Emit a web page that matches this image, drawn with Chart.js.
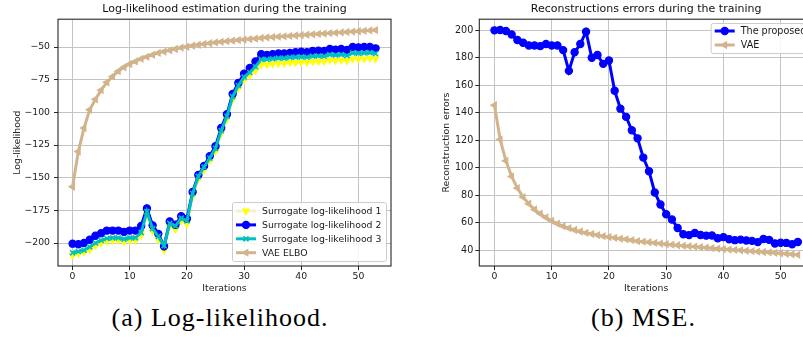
<!DOCTYPE html>
<html>
<head>
<meta charset="utf-8">
<script src="https://cdn.jsdelivr.net/npm/chart.js@4.4.0/dist/chart.umd.min.js"></script>
<style>
  html, body { margin: 0; padding: 0; background: #fff; overflow: hidden; }
  #wrap { position: relative; width: 803px; height: 348px; overflow: hidden; }
  .plot { position: absolute; top: 0; }
  .cap { position: absolute; top: 304px; font-family: "Liberation Serif", serif; font-size: 26px;
         line-height: 28px; letter-spacing: 1px; color: #000; text-align: center; white-space: nowrap; }
</style>
</head>
<body>
<div id="wrap">
  <canvas id="llChart" class="plot" width="400" height="300" style="left:0px"></canvas>
  <canvas id="mseChart" class="plot" width="430" height="300" style="left:400px"></canvas>
  <div class="cap" style="left:0px;width:440px">(a) Log-likelihood.</div>
  <div class="cap" style="left:543px;width:201px">(b) MSE.</div>
</div>
<script>
// iterations 0..53
var iterations = [0,1,2,3,4,5,6,7,8,9,10,11,12,13,14,15,16,17,18,19,20,21,22,23,24,25,26,
  27,28,29,30,31,32,33,34,35,36,37,38,39,40,41,42,43,44,45,46,47,48,49,50,51,52,53];

// tick labels
var iterTicks = [0, 10, 20, 30, 40, 50];
var llTicks = [-200, -175, -150, -125, -100, -75, -50];
var mseTicks = [40, 60, 80, 100, 120, 140, 160, 180, 200];

// left panel: log-likelihood
var surrogate1 = [-209.5,-208,-207,-205,-202,-200,-198.5,-198,-198,-199,-198,-198,-194,-178,-191,-197.5,
  -205.5,-187,-189.5,-183,-185.5,-164,-151,-144,-137,-129.5,-116,-105,-90,-81.5,-75,-71.5,-68,-63.5,
  -63.5,-63,-62.5,-62.5,-62,-62,-61.5,-61.8,-61,-61,-61,-60,-60.3,-60,-60.5,-59,-59.2,-59,-58.5,-59];
var surrogate2 = [-200.5,-201,-200,-197.5,-194.5,-192.5,-190.5,-190.5,-190.5,-191.5,-190.5,-190.5,-187,
  -173.5,-186.5,-193,-202.5,-183.5,-186,-179.5,-181.5,-161,-148,-141,-133.5,-126,-112,-101.5,-86,-77.5,
  -70.5,-66,-61,-55.5,-56,-55.5,-55,-55,-54.5,-54,-53.5,-54,-53,-52.8,-53,-51.5,-52,-51.5,-52.3,-50,
  -50.3,-50,-50,-51];
var surrogate3 = [-207.5,-206.5,-205.5,-203,-200,-198,-196.5,-196,-196,-197,-196,-196,-192,-176,-189,
  -195,-202,-185,-187,-181,-183,-162,-149,-142,-135,-127.5,-114,-103,-88,-79.5,-73,-69.5,-65,-59.5,
  -59.5,-59,-58.5,-58.5,-58,-57.8,-57.5,-57.8,-57,-56.8,-57,-55.8,-56.2,-55.8,-56.5,-54.5,-54.8,-54.5,
  -54.3,-55];
var vaeElbo = [-157,-130,-112,-98,-90,-83,-77,-72.5,-68.5,-65.5,-63,-61,-59,-57.5,-56,-54.5,-53.5,-52.5,
  -51.5,-50.5,-49.8,-49,-48.3,-47.7,-47.1,-46.5,-46,-45.5,-45.1,-44.7,-44.3,-43.9,-43.5,-43.1,-42.7,
  -42.4,-42.1,-41.8,-41.5,-41.2,-40.9,-40.6,-40.3,-40,-39.7,-39.4,-39.1,-38.8,-38.5,-38.2,-37.9,-37.6,
  -37.3,-37];

// right panel: reconstruction errors
var proposedErr = [200,200.2,199.5,197,193,191,189,189,188.5,190,189,189,185.6,170.5,184,190,199,180,182,
  175.6,178,156,143,137,127.3,121.4,107.4,97.5,82,73.2,66.2,62.3,56.2,51.6,51,52.5,51.1,50.6,50.7,48.7,
  49.5,48,47.3,47.7,47.1,46.8,45.9,48.2,47.5,44.9,45.4,45.3,44.3,46];
var vaeErr = [145.5,120.5,105,93.7,85.2,78.6,73.8,69.6,66.6,63.8,61.4,59.3,57.5,56,54.7,53.6,52.6,51.8,
  51,50.2,49.6,49,48.4,47.9,47.3,46.6,46.2,45.8,45.3,44.8,44.4,44,43.6,43.2,42.9,42.6,42.2,41.9,41.5,
  41.1,40.8,40.5,40.2,39.9,39.6,39.3,39,38.7,38.4,38.1,37.8,37.4,37,36.6];

var FONT = '"DejaVu Sans", sans-serif';

function pts(values) {
  return iterations.map(function (x, i) { return { x: x, y: values[i] }; });
}

function fixedTicks(list) {
  return function (scale) {
    scale.ticks = list.map(function (v) { return { value: v }; });
  };
}

// box frame around the axes (all four spines)
var framePlugin = {
  id: 'frame',
  afterDraw: function (chart) {
    var a = chart.chartArea, ctx = chart.ctx;
    ctx.save();
    ctx.strokeStyle = '#262626';
    ctx.lineWidth = 1.1;
    ctx.strokeRect(a.left, a.top, a.right - a.left, a.bottom - a.top);
    ctx.restore();
  }
};

// legend drawn inside the axes, like matplotlib
var innerLegend = {
  id: 'innerLegend',
  afterDraw: function (chart, args, o) {
    var ctx = chart.ctx;
    ctx.save();
    ctx.fillStyle = 'rgba(255,255,255,0.85)';
    ctx.strokeStyle = '#cccccc';
    ctx.lineWidth = 1;
    ctx.beginPath();
    ctx.roundRect(o.x + 0.5, o.y + 0.5, o.w, o.h, 2);
    ctx.fill();
    ctx.stroke();
    ctx.font = o.fontSize + 'px ' + FONT;
    ctx.textBaseline = 'middle';
    chart.data.datasets.forEach(function (ds, i) {
      var cy = o.y + o.rowStart + i * o.rowGap;
      ctx.strokeStyle = ds.borderColor;
      ctx.lineWidth = ds.borderWidth;
      ctx.beginPath();
      ctx.moveTo(o.x + 4, cy);
      ctx.lineTo(o.x + 24, cy);
      ctx.stroke();
      ctx.fillStyle = ds.pointBackgroundColor;
      ctx.strokeStyle = ds.pointBorderColor;
      ctx.lineWidth = ds.pointBorderWidth;
      Chart.helpers.drawPoint(ctx, {
        pointStyle: ds.pointStyle, rotation: ds.pointRotation || 0,
        radius: ds.pointRadius, borderWidth: ds.pointBorderWidth
      }, o.x + 14, cy);
      ctx.fillStyle = '#1a1a1a';
      ctx.fillText(ds.label, o.x + 30, cy + 0.5);
    });
    ctx.restore();
  }
};

function makeOptions(c) {
  return {
    responsive: false,
    animation: false,
    layout: { padding: { left: 0, right: c.padRight, top: 0, bottom: 0 } },
    plugins: {
      legend: { display: false },
      tooltip: { enabled: false },
      title: {
        display: true, text: c.title, fullSize: false, color: '#111',
        font: { family: FONT, size: 11, weight: 'normal' }, padding: { top: 3, bottom: 3 }
      },
      innerLegend: c.legend
    },
    scales: {
      x: {
        type: 'linear', min: c.xMin, max: c.xMax,
        afterBuildTicks: fixedTicks(iterTicks),
        afterFit: function (s) { s.height = 34; },
        border: { display: false },
        grid: { color: '#c4c4c4', lineWidth: 1, tickColor: '#262626', tickLength: 4 },
        ticks: { padding: 1, color: '#222', font: { family: FONT, size: 9.3 }, maxRotation: 0 },
        title: { display: true, text: 'Iterations', color: '#222',
                 font: { family: FONT, size: 9.3 }, padding: { top: 0, bottom: 5.6 } }
      },
      y: {
        type: 'linear', min: c.yMin, max: c.yMax,
        afterBuildTicks: fixedTicks(c.yTicks),
        afterFit: function (s) { s.width = c.yWidth; },
        border: { display: false },
        grid: { color: '#c4c4c4', lineWidth: 1, tickColor: '#262626', tickLength: 4 },
        ticks: {
          padding: c.yPad, color: '#222', font: { family: FONT, size: c.yFont },
          callback: function (v) { return String(v).replace('-', '\u2212'); }
        },
        title: { display: true, text: c.yLabel, color: '#222',
                 font: { family: FONT, size: 9.3 }, padding: { top: c.yTitlePad, bottom: 0 } }
      }
    }
  };
}

function series(label, values, color, pointColor, style, rot, order) {
  return {
    label: label, data: pts(values), borderColor: color, borderWidth: 3,
    pointStyle: style, pointRotation: rot, pointRadius: 3.6,
    pointBackgroundColor: pointColor, pointBorderColor: pointColor, pointBorderWidth: 1.2,
    tension: 0, order: order
  };
}

var llChart = new Chart(document.getElementById('llChart'), {
  type: 'line',
  data: {
    datasets: [
      series('Surrogate log-likelihood 1', surrogate1, '#f3f1d2', '#ffff00', 'triangle', 180, 4),
      series('Surrogate log-likelihood 2', surrogate2, '#0000ff', '#0000ff', 'circle', 0, 3),
      Object.assign(series('Surrogate log-likelihood 3', surrogate3, '#00bfbf', '#00bfbf', 'crossRot', 0, 2),
                    { pointBorderWidth: 1.6 }),
      series('VAE ELBO', vaeElbo, '#d2b48c', '#d2b48c', 'triangle', -90, 1)
    ]
  },
  options: makeOptions({
    title: 'Log-likelihood estimation during the training',
    padRight: 9, xMin: -2.55, xMax: 55.7, yMin: -217.6, yMax: -28.7, yTicks: llTicks,
    yWidth: 58, yPad: 4, yFont: 9.3, yLabel: 'Log-likelihood', yTitlePad: 11.6,
    legend: { x: 232, y: 202, w: 154, h: 59, rowStart: 9, rowGap: 13.9, fontSize: 9.3 }
  }),
  plugins: [framePlugin, innerLegend]
});

var mseChart = new Chart(document.getElementById('mseChart'), {
  type: 'line',
  data: {
    datasets: [
      series('The proposed', proposedErr, '#0000ff', '#0000ff', 'circle', 0, 2),
      series('VAE', vaeErr, '#d2b48c', '#d2b48c', 'triangle', -90, 1)
    ]
  },
  options: makeOptions({
    title: 'Reconstructions errors during the training',
    padRight: 17, xMin: -2.65, xMax: 55.65, yMin: 28.5, yMax: 208.1, yTicks: mseTicks,
    yWidth: 79.3, yPad: 2, yFont: 9.6, yLabel: 'Reconstruction errors', yTitlePad: 41.3,
    legend: { x: 310.7, y: 23, w: 100, h: 30, rowStart: 8, rowGap: 14, fontSize: 9.6 }
  }),
  plugins: [framePlugin, innerLegend]
});
</script>
</body>
</html>
